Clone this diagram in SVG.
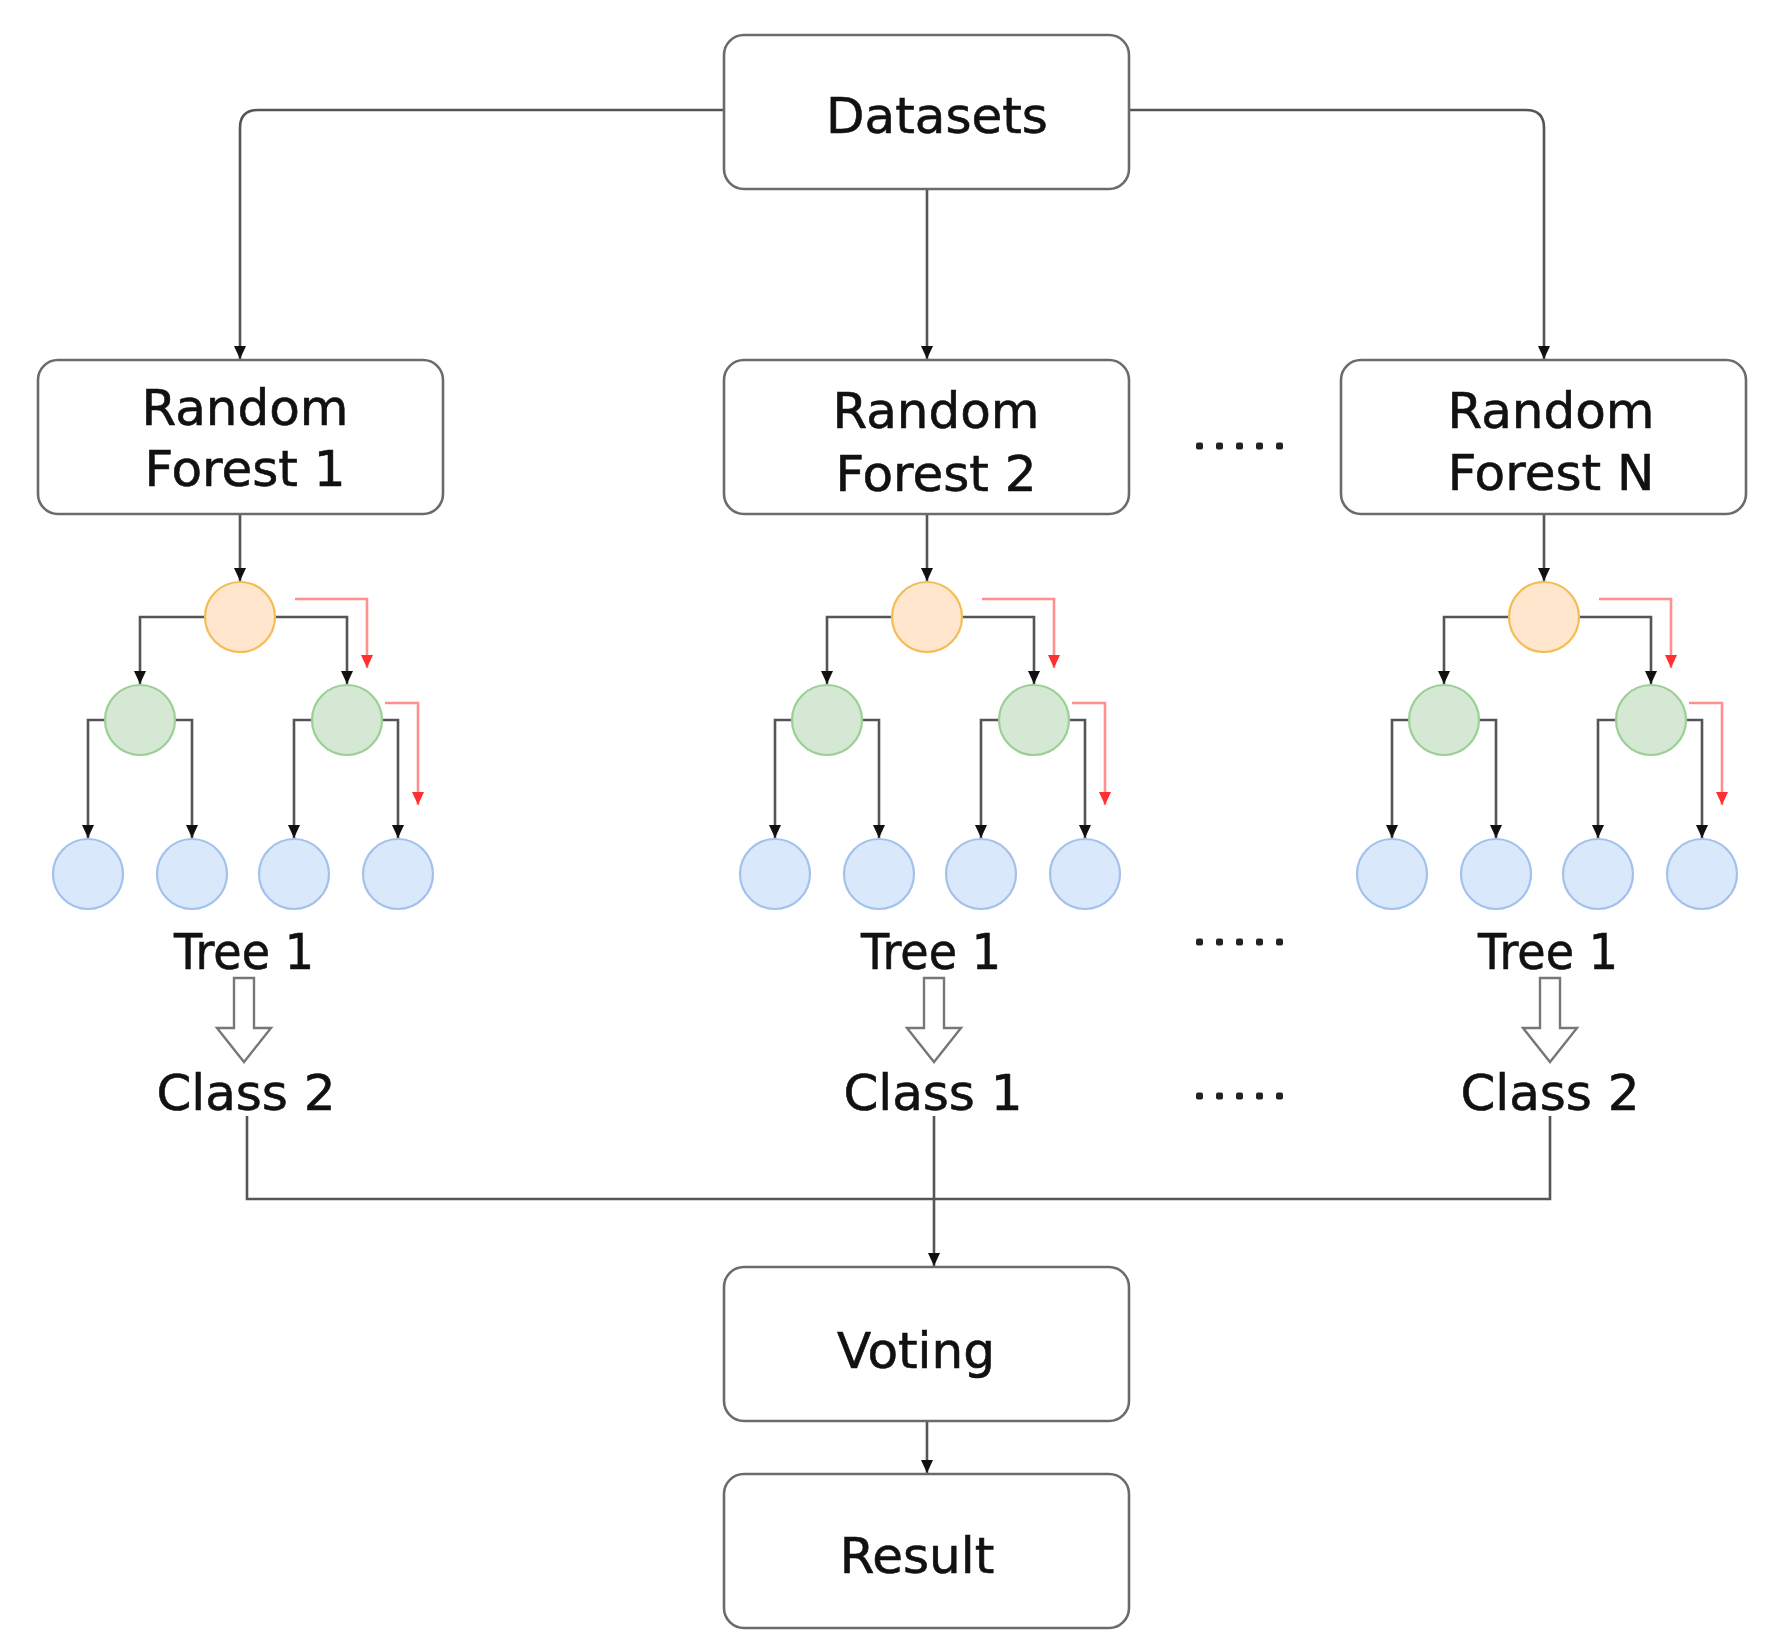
<svg xmlns="http://www.w3.org/2000/svg" width="1768" height="1649" viewBox="0 0 1768 1649">
<defs>
<style>
.box{fill:#fff;stroke:#6b6b6b;stroke-width:2.6}
.lbl{font-family:"DejaVu Sans","Verdana",sans-serif;font-size:50px;fill:#111;stroke:#111;stroke-width:0.6;text-anchor:middle}
.ln{fill:none;stroke:#555;stroke-width:2.6}
.red{fill:none;stroke:#ff9090;stroke-width:2.6}
.root{fill:#ffe6cc;stroke:#f3bd55;stroke-width:2.2}
.mid{fill:#d5e8d4;stroke:#9ccf95;stroke-width:2.2}
.leaf{fill:#dae8fc;stroke:#a3c1ea;stroke-width:2.2}
.hollow{fill:#fff;stroke:#777;stroke-width:2.4}
.dot{fill:#222}
</style>
<marker id="ab" markerUnits="userSpaceOnUse" markerWidth="15" markerHeight="15" viewBox="0 0 15 15" refX="14" refY="7.5" orient="auto">
<path d="M1,1.5 L14,7.5 L1,13.5 z" fill="#111"/>
</marker>
<marker id="ar" markerUnits="userSpaceOnUse" markerWidth="15" markerHeight="15" viewBox="0 0 15 15" refX="14" refY="7.5" orient="auto">
<path d="M1,1.5 L14,7.5 L1,13.5 z" fill="#ff3030"/>
</marker>
<g id="tree">
<path class="ln" d="M205,617 H140 V684" marker-end="url(#ab)"/>
<path class="ln" d="M275,617 H347 V684" marker-end="url(#ab)"/>
<path class="ln" d="M105,720 H88 V838" marker-end="url(#ab)"/>
<path class="ln" d="M175,720 H192 V838" marker-end="url(#ab)"/>
<path class="ln" d="M312,720 H294 V838" marker-end="url(#ab)"/>
<path class="ln" d="M382,720 H398 V838" marker-end="url(#ab)"/>
<path class="red" d="M295,599 H367 V668" marker-end="url(#ar)"/>
<path class="red" d="M385,703 H418 V805" marker-end="url(#ar)"/>
<circle class="root" cx="240" cy="617" r="35"/>
<circle class="mid" cx="140" cy="720" r="35"/>
<circle class="mid" cx="347" cy="720" r="35"/>
<circle class="leaf" cx="88" cy="874" r="35"/>
<circle class="leaf" cx="192" cy="874" r="35"/>
<circle class="leaf" cx="294" cy="874" r="35"/>
<circle class="leaf" cx="398" cy="874" r="35"/>
</g>
<path id="hol" class="hollow" d="M-10,978 H10 V1028 H27 L0,1062 L-27,1028 H-10 Z"/>
<g id="dots">
<rect class="dot" x="1196" y="-3.5" width="7" height="7" rx="2"/>
<rect class="dot" x="1216" y="-3.5" width="7" height="7" rx="2"/>
<rect class="dot" x="1236" y="-3.5" width="7" height="7" rx="2"/>
<rect class="dot" x="1256" y="-3.5" width="7" height="7" rx="2"/>
<rect class="dot" x="1276" y="-3.5" width="7" height="7" rx="2"/>
</g>
</defs>

<g id="connectors">
<path class="ln" d="M724,110 H258 Q240,110 240,128 V359" marker-end="url(#ab)"/>
<path class="ln" d="M1129,110 H1526 Q1544,110 1544,128 V359" marker-end="url(#ab)"/>
<path class="ln" d="M927,189 V359" marker-end="url(#ab)"/>
<path class="ln" d="M240,514 V581" marker-end="url(#ab)"/>
<path class="ln" d="M927,514 V581" marker-end="url(#ab)"/>
<path class="ln" d="M1544,514 V581" marker-end="url(#ab)"/>
<path class="ln" d="M247,1116 V1199 H1550 V1116"/>
<path class="ln" d="M934,1116 V1266" marker-end="url(#ab)"/>
<path class="ln" d="M927,1421 V1473" marker-end="url(#ab)"/>
</g>

<g id="datasets">
<rect class="box" x="724" y="35" width="405" height="154" rx="20"/>
<text class="lbl" x="937" y="133">Datasets</text>
</g>

<g id="rf1">
<rect class="box" x="38" y="360" width="405" height="154" rx="20"/>
<text class="lbl" x="245" y="425">Random</text>
<text class="lbl" x="245" y="486">Forest 1</text>
</g>
<g id="rf2">
<rect class="box" x="724" y="360" width="405" height="154" rx="20"/>
<text class="lbl" x="936" y="428">Random</text>
<text class="lbl" x="936" y="491">Forest 2</text>
</g>
<g id="rfn">
<rect class="box" x="1341" y="360" width="405" height="154" rx="20"/>
<text class="lbl" x="1551" y="428">Random</text>
<text class="lbl" x="1551" y="490">Forest N</text>
</g>

<g id="tree1">
<use href="#tree"/>
<text class="lbl" x="244" y="969" textLength="140" lengthAdjust="spacingAndGlyphs">Tree 1</text>
<use href="#hol" x="244"/>
<text class="lbl" x="246" y="1110">Class 2</text>
</g>
<g id="tree2">
<use href="#tree" x="687"/>
<text class="lbl" x="931" y="969" textLength="140" lengthAdjust="spacingAndGlyphs">Tree 1</text>
<use href="#hol" x="934"/>
<text class="lbl" x="933" y="1110">Class 1</text>
</g>
<g id="treeN">
<use href="#tree" x="1304"/>
<text class="lbl" x="1548" y="969" textLength="140" lengthAdjust="spacingAndGlyphs">Tree 1</text>
<use href="#hol" x="1550"/>
<text class="lbl" x="1550" y="1110">Class 2</text>
</g>

<g id="ellipsis">
<use href="#dots" y="446"/>
<use href="#dots" y="942"/>
<use href="#dots" y="1096"/>
</g>

<g id="voting">
<rect class="box" x="724" y="1267" width="405" height="154" rx="20"/>
<text class="lbl" x="916" y="1368">Voting</text>
</g>
<g id="result">
<rect class="box" x="724" y="1474" width="405" height="154" rx="20"/>
<text class="lbl" x="917" y="1573">Result</text>
</g>
</svg>
